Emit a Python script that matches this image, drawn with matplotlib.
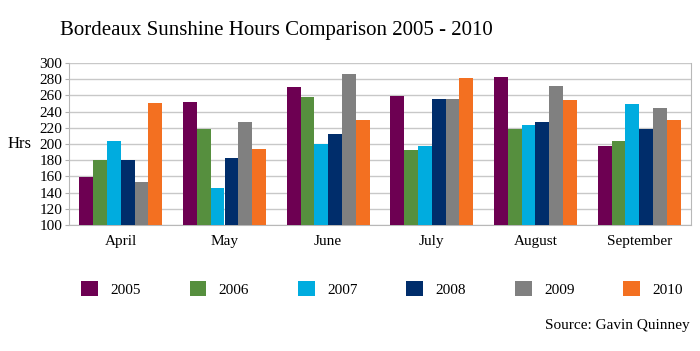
import numpy as np
import matplotlib
matplotlib.use('Agg')
import matplotlib.pyplot as plt

months = ['April', 'May', 'June', 'July', 'August', 'September']
years = ['2005', '2006', '2007', '2008', '2009', '2010']
colors = ['#6d0052', '#568f3e', '#00acdf', '#002d6b', '#808080', '#f37021']

# sunshine hours per year, one value per month
hrs_2005 = [159, 252, 270, 259, 283, 197]
hrs_2006 = [180, 219, 258, 192, 219, 204]
hrs_2007 = [204, 146, 200, 198, 224, 249]
hrs_2008 = [180, 183, 212, 256, 227, 219]
hrs_2009 = [153, 227, 286, 256, 271, 244]
hrs_2010 = [250, 194, 230, 281, 254, 230]
series = [hrs_2005, hrs_2006, hrs_2007, hrs_2008, hrs_2009, hrs_2010]

plt.rcParams['font.family'] = ['Liberation Serif', 'DejaVu Serif']

fig = plt.figure(figsize=(7, 3.51), dpi=100)
ax = fig.add_axes([69/700, 1 - 225/351, 622/700, 162/351])

x = np.arange(len(months))
w = 0.8 / len(years)
for i, (yr, vals) in enumerate(zip(years, series)):
    ax.bar(x - 0.4 + w * (i + 0.5), np.array(vals) - 100, width=w, bottom=100,
           color=colors[i], label=yr, zorder=3)

ax.set_xlim(-0.5, len(months) - 0.5)
ax.set_ylim(100, 300)
ax.set_yticks(range(100, 301, 20))
ax.set_xticks(x)
ax.set_xticklabels(months, fontsize=11)
ax.tick_params(axis='y', labelsize=11, length=3, color='#b0b0b0', pad=2)
ax.tick_params(axis='x', length=0, pad=7)
ax.grid(axis='y', color='#c8c8c8', linewidth=1, zorder=0)
for s in ['left', 'bottom', 'right']:
    ax.spines[s].set_color('#b8b8b8')
ax.spines['top'].set_visible(False)

ax.set_ylabel('Hrs', fontsize=12, rotation=0, labelpad=14, va='center')

fig.text(60/700, 1 - 31/351, 'Bordeaux Sunshine Hours Comparison 2005 - 2010',
         fontsize=15, va='center', ha='left')

fig.legend(loc='center', bbox_to_anchor=(382/700, 1 - 289/351), ncol=6, frameon=False,
           fontsize=11, handlelength=1.1, handleheight=1.1, columnspacing=3.2,
           handletextpad=0.8)

fig.text(690/700, 1 - 325/351, 'Source: Gavin Quinney', fontsize=11,
         ha='right', va='center')

fig.savefig('out.png', dpi=100)
